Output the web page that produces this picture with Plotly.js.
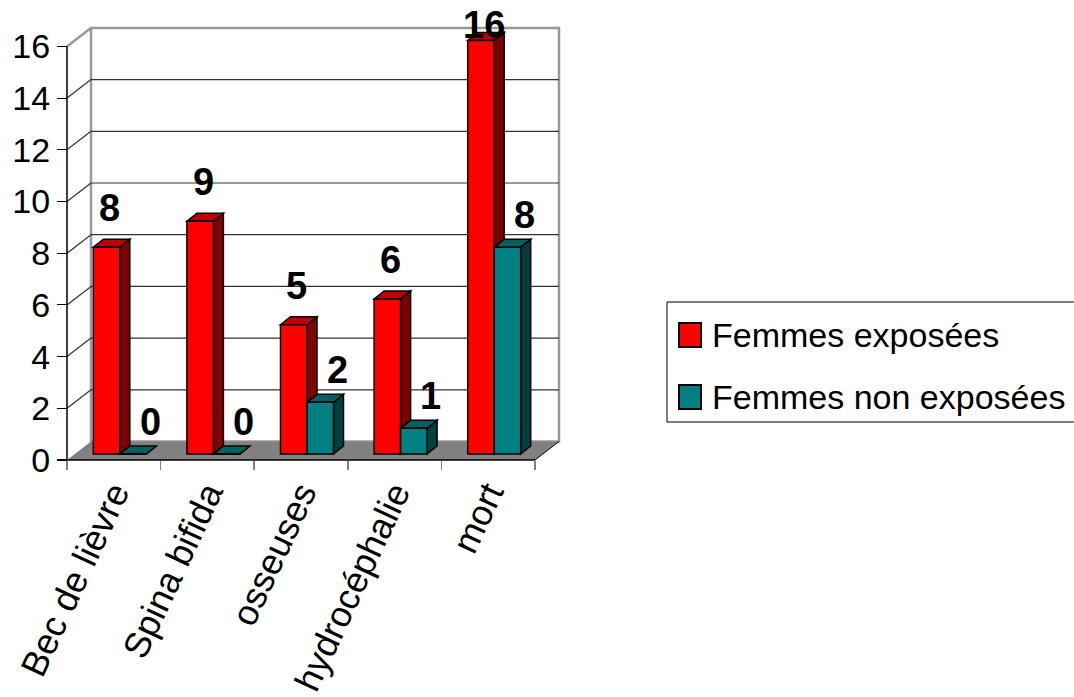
<!DOCTYPE html>
<html>
<head>
<meta charset="utf-8">
<script src="https://cdn.plot.ly/plotly-3.0.1.min.js"></script>
<style>html,body{margin:0;padding:0;background:#fff;}#chart{width:1074px;height:697px;}</style>
</head>
<body>
<div id="chart"></div>
<script>
// ---- data ----
const categories = ['Bec de lièvre', 'Spina bifida', 'osseuses', 'hydrocéphalie', 'mort'];
const seriesNames = ['Femmes exposées', 'Femmes non exposées'];
const exposed = [8, 9, 5, 6, 16];
const nonExposed = [0, 0, 2, 1, 8];
const yTicks = [0, 2, 4, 6, 8, 10, 12, 14, 16];

// ---- styling / layout constants ----
const FONT = 'Liberation Sans, Arial, sans-serif';
const frontColors = ['#ff0000', '#008080'];
const sideColors = ['#800000', '#004040'];
const topColors = ['#c00000', '#006060'];

const W = 1074, H = 697;
const L = 62, R = 562, T = 24, B = 472;        // plot area in px
const frontX0 = 67, catW = 93.6;              // front plane: category boundary 0 and width
const frontY0 = 460, unit = 25.85;            // front plane: value 0 and px per unit
const n = categories.length;
const yMax = yTicks[yTicks.length - 1];

const xr = [(L - frontX0) / catW, (R - frontX0) / catW];
const yr = [(frontY0 - B) / unit, (frontY0 - T) / unit];

// depth offsets (px -> data units)
const bdu = 24 / catW, bdv = 18.5 / unit;     // back wall
const pu = 6 / catW, pv = 6 / unit;           // bar front plane
const du = 10 / catW, dv = 8 / unit;          // bar depth
const bw = 26.5 / catW;                       // bar width

const px = X => (X - L) / (R - L);
const py = Y => (B - Y) / (B - T);

const shapes = [];
// back wall
shapes.push({type: 'rect', xref: 'x', yref: 'y', x0: bdu, y0: bdv, x1: n + bdu, y1: yMax + bdv,
  line: {color: '#999999', width: 2.5}, fillcolor: '#ffffff', layer: 'below'});
// back wall gridlines and left wall diagonals
yTicks.forEach(k => {
  if (k > 0 && k < yMax) {
    shapes.push({type: 'line', xref: 'x', yref: 'y', x0: bdu, x1: n + bdu, y0: k + bdv, y1: k + bdv,
      line: {color: '#333333', width: 1.2}, layer: 'below'});
  }
  if (k > 0) {
    const top = k === yMax;
    shapes.push({type: 'line', xref: 'x', yref: 'y', x0: 0, y0: k, x1: bdu, y1: k + bdv,
      line: {color: top ? '#999999' : '#333333', width: top ? 2.5 : 1.2}, layer: 'below'});
  }
});
// floor
shapes.push({type: 'path', xref: 'x', yref: 'y', layer: 'below',
  path: `M0,0 L${n},0 L${n + bdu},${bdv} L${bdu},${bdv} Z`, fillcolor: '#808080', line: {width: 0}});
// front axis lines
shapes.push({type: 'line', xref: 'x', yref: 'y', x0: 0, y0: 0, x1: 0, y1: yMax, line: {color: '#000', width: 1.5}, layer: 'below'});
shapes.push({type: 'line', xref: 'x', yref: 'y', x0: 0, y0: 0, x1: n, y1: 0, line: {color: '#000', width: 1.5}, layer: 'below'});
shapes.push({type: 'line', xref: 'x', yref: 'y', x0: n, y0: 0, x1: n + bdu, y1: bdv, line: {color: '#000', width: 1}, layer: 'below'});

// bar side and top faces
const seriesVals = [exposed, nonExposed];
seriesVals.forEach((vals, s) => {
  vals.forEach((v, i) => {
    const c = i + 0.5;
    const xl = s === 0 ? c - bw : c;
    const xrt = xl + bw;
    shapes.push({type: 'path', xref: 'x2', yref: 'y2', layer: 'below',
      path: `M${xrt},0 L${xrt},${v} L${xrt + du},${v + dv} L${xrt + du},${dv} Z`,
      fillcolor: sideColors[s], line: {color: '#000', width: 1.5}});
    shapes.push({type: 'path', xref: 'x2', yref: 'y2', layer: 'below',
      path: `M${xl},${v} L${xrt},${v} L${xrt + du},${v + dv} L${xl + du},${v + dv} Z`,
      fillcolor: topColors[s], line: {color: '#000', width: 1.5}});
  });
});

// legend (drawn)
shapes.push({type: 'rect', xref: 'paper', yref: 'paper', x0: px(667), x1: px(1080), y0: py(422), y1: py(302),
  line: {color: '#000', width: 1}, fillcolor: 'rgba(0,0,0,0)'});
const annotations = [];
seriesNames.forEach((name, s) => {
  const cy = 335 + 62 * s;
  shapes.push({type: 'rect', xref: 'paper', yref: 'paper', x0: px(679), x1: px(701), y0: py(cy + 12), y1: py(cy - 12),
    line: {color: '#000', width: 2}, fillcolor: frontColors[s]});
  annotations.push({xref: 'paper', yref: 'paper', x: px(710), y: py(cy), xanchor: 'left', yanchor: 'middle',
    text: name, showarrow: false, font: {family: FONT, size: 34, color: '#000'}});
});

// value labels
const labelShift = [{x: 3, y: 16}, {x: 17, y: 9}];
seriesVals.forEach((vals, s) => {
  vals.forEach((v, i) => {
    const c = i + 0.5;
    const xc = s === 0 ? c - bw / 2 : c + bw / 2;
    const barTop = frontY0 - pv * unit - v * unit;
    const ys = Math.min(labelShift[s].y, barTop - 46 - 2);
    annotations.push({xref: 'x2', yref: 'y2', x: xc, y: v, xanchor: 'center', yanchor: 'bottom',
      xshift: labelShift[s].x, yshift: ys, text: String(v), showarrow: false,
      font: {family: FONT, size: 38, color: '#000', weight: 'bold'}});
  });
});

const traces = seriesVals.map((vals, s) => ({
  type: 'bar', name: seriesNames[s], x: categories.map((_, i) => i + 0.5), y: vals,
  xaxis: 'x2', yaxis: 'y2', showlegend: false,
  marker: {color: frontColors[s], line: {color: '#000', width: 1.5}},
  hovertext: categories, hoverinfo: 'text+y+name'
}));

const layout = {
  width: W, height: H,
  margin: {l: L, r: W - R, t: T, b: H - B, pad: 0},
  paper_bgcolor: '#ffffff', plot_bgcolor: 'rgba(0,0,0,0)',
  showlegend: false,
  barmode: 'group', bargap: 1 - 2 * bw, bargroupgap: 0,
  font: {family: FONT, color: '#000'},
  xaxis: {range: xr, anchor: 'free', position: (B - frontY0) / (B - T), showgrid: false, zeroline: false, showline: false,
    tickmode: 'array', tickvals: categories.map((_, i) => i + 0.5), ticktext: categories,
    ticks: '', tickangle: -65, ticklabelstandoff: 4, tickfont: {family: FONT, size: 36, color: '#000'},
    minor: {tickmode: 'linear', tick0: 0, dtick: 1, ticks: 'outside', ticklen: 9, tickcolor: '#808080', tickwidth: 1.5, showgrid: false},
    fixedrange: true},
  yaxis: {range: yr, anchor: 'free', position: px(frontX0), showgrid: false, zeroline: false, showline: false,
    tickmode: 'array', tickvals: yTicks, ticks: 'outside', ticklen: 10, tickcolor: '#000', tickwidth: 1.2,
    tickfont: {family: FONT, size: 34, color: '#000'}, fixedrange: true},
  xaxis2: {range: [xr[0] - pu, xr[1] - pu], overlaying: 'x', anchor: 'y2', visible: false, fixedrange: true},
  yaxis2: {range: [yr[0] - pv, yr[1] - pv], overlaying: 'y', anchor: 'x2', visible: false, fixedrange: true},
  shapes: shapes,
  annotations: annotations
};

Plotly.newPlot('chart', traces, layout, {displayModeBar: false, staticPlot: true});
</script>
</body>
</html>
